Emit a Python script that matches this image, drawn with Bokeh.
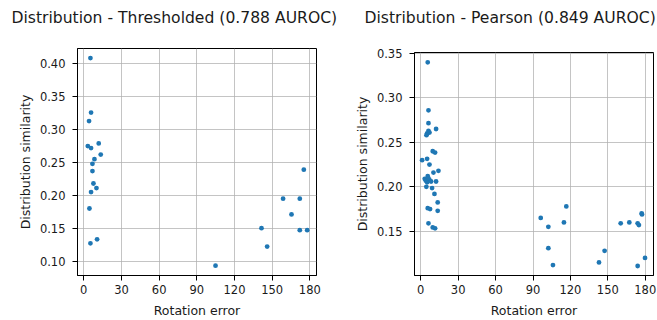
from bokeh.plotting import figure
from bokeh.layouts import row
from bokeh.models import Range1d, FixedTicker, NumeralTickFormatter, Title
from bokeh.embed import file_html
from bokeh.resources import INLINE

# ---- data ----
thr_title = "Distribution - Thresholded (0.788 AUROC)"
thr_x = [5.3, 5.8, 4.2, 3.2, 5.8, 11.9, 13.5, 8.5, 6.9, 6.9, 7.7, 10.1, 5.8, 4.5, 5.3, 10.6,
         104.9, 141.5, 146.0, 158.7, 165.4, 172.0, 172.0, 175.2, 177.9]
thr_y = [0.409, 0.326, 0.313, 0.275, 0.272, 0.279, 0.262, 0.255, 0.248, 0.237, 0.218, 0.211,
         0.205, 0.180, 0.127, 0.133, 0.093, 0.150, 0.122, 0.195, 0.171, 0.195, 0.147, 0.239, 0.147]

pear_title = "Distribution - Pearson (0.849 AUROC)"
pear_x = [5.6, 6.2, 6.2, 6.2, 12.3, 5.1, 7.0, 4.6, 9.6, 11.5, 1.1, 5.1, 7.0, 14.2, 10.2,
          3.2, 5.6, 6.9, 5.1, 8.3, 4.0, 6.0, 12.3, 4.5, 9.1, 11.0, 13.6, 5.6, 7.5, 13.6,
          6.2, 9.6, 11.5, 96.2, 102.3, 102.3, 106.0, 114.8, 116.7, 142.9, 147.4, 160.3,
          167.2, 173.9, 174.9, 177.1, 177.4, 173.9, 179.8]
pear_y = [0.340, 0.286, 0.2715, 0.263, 0.265, 0.260, 0.261, 0.258, 0.240, 0.2385, 0.230,
          0.2315, 0.225, 0.218, 0.216, 0.209, 0.212, 0.208, 0.205, 0.206, 0.207, 0.210,
          0.206, 0.200, 0.1986, 0.192, 0.1825, 0.176, 0.175, 0.173, 0.159, 0.1544, 0.1533,
          0.165, 0.155, 0.131, 0.112, 0.160, 0.178, 0.115, 0.128, 0.159, 0.160, 0.159,
          0.157, 0.170, 0.169, 0.111, 0.120]

x_ticks = [0, 30, 60, 90, 120, 150, 180]
thr_y_ticks = [0.10, 0.15, 0.20, 0.25, 0.30, 0.35, 0.40]
pear_y_ticks = [0.15, 0.20, 0.25, 0.30, 0.35]

x_label = "Rotation error"
y_label = "Distribution similarity"

FONT = "DejaVu Sans"
TXT = "#1a1a1a"
DOT = "#1f77b4"


def make(xs, ys, title, xr, yr, yticks, w, h, bl, br, bt, bb, t_off, gap):
    p = figure(width=w, height=h,
               x_range=Range1d(*xr), y_range=Range1d(*yr),
               output_backend="svg", toolbar_location=None,
               min_border_left=bl, min_border_right=br,
               min_border_top=bt, min_border_bottom=bb,
               frame_align=False,
               background_fill_color="white", border_fill_color="white")
    # visible title (outermost panel)
    p.title.text = title
    p.title.align = "left"
    p.title.offset = t_off
    p.title.standoff = 0
    p.title.text_font = FONT
    p.title.text_font_size = "15.6px"
    p.title.text_font_style = "normal"
    p.title.text_color = TXT
    # invisible spacer between title and frame
    p.add_layout(Title(text=" ", text_font_size="1px", standoff=gap), "above")

    p.outline_line_color = "black"
    p.outline_line_width = 1
    p.outline_line_alpha = 1

    p.xaxis.ticker = FixedTicker(ticks=x_ticks)
    p.yaxis.ticker = FixedTicker(ticks=yticks)
    p.yaxis.formatter = NumeralTickFormatter(format="0.00")
    for ax in (p.xaxis, p.yaxis):
        ax.axis_line_color = "black"
        ax.major_tick_line_color = "black"
        ax.major_tick_out = 5
        ax.major_tick_in = 0
        ax.minor_tick_line_color = None
        ax.major_label_text_font = FONT
        ax.major_label_text_font_size = "11.5px"
        ax.major_label_text_color = TXT
        ax.axis_label_text_font = FONT
        ax.axis_label_text_font_size = "12.5px"
        ax.axis_label_text_font_style = "normal"
        ax.axis_label_text_color = TXT
    p.xaxis.axis_label = x_label
    p.yaxis.axis_label = y_label
    p.xaxis.major_label_standoff = 4
    p.yaxis.major_label_standoff = 7
    p.xaxis.axis_label_standoff = 6
    p.yaxis.axis_label_standoff = 4

    p.grid.grid_line_color = "#b0b0b0"
    p.grid.grid_line_width = 1
    p.grid.grid_line_alpha = 0.75

    p.scatter(xs, ys, size=4.8, fill_color=DOT, line_color=DOT, line_width=0)
    return p


p1 = make(thr_x, thr_y, thr_title, (-5.0, 185.3), (0.0780, 0.4235), thr_y_ticks,
          w=338, h=320, bl=77, br=22, bt=48, bb=44, t_off=-66, gap=19)
p2 = make(pear_x, pear_y, pear_title, (-5.0, 186.6), (0.1003, 0.3510), pear_y_ticks,
          w=319, h=320, bl=76, br=4, bt=52, bb=44, t_off=-50, gap=23)

layout = row(p1, p2)
open("out.html", "w").write(file_html(layout, INLINE))
